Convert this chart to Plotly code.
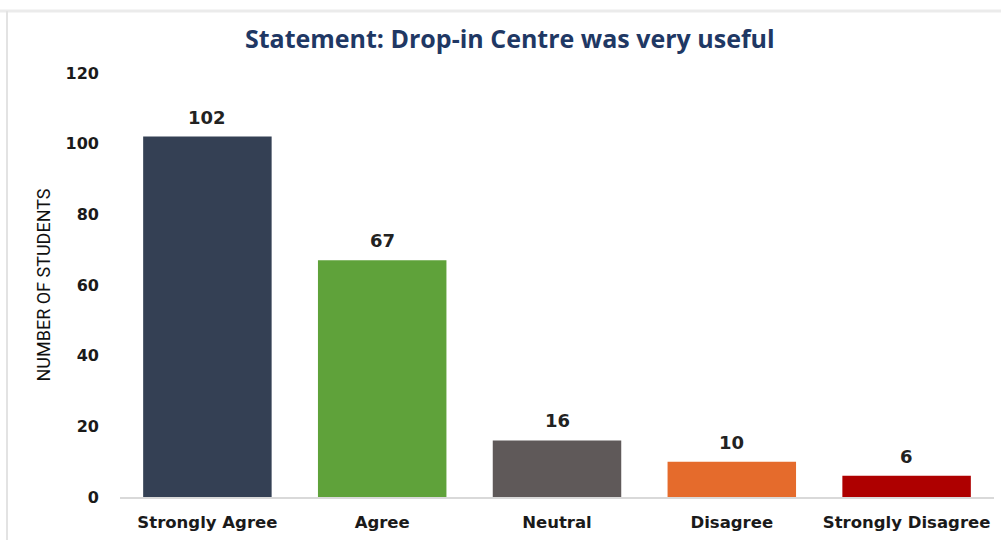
import plotly.graph_objects as go

categories = ["Strongly Agree", "Agree", "Neutral", "Disagree", "Strongly Disagree"]
values = [102, 67, 16, 10, 6]
colors = ["#344054", "#5FA23A", "#5F5959", "#E56B2C", "#AE0000"]
y_ticks = [0, 20, 40, 60, 80, 100, 120]

fig = go.Figure(go.Bar(
    x=categories, y=values,
    marker=dict(color=colors, line=dict(width=0)),
    hoverinfo="x+y",
))

for c, v in zip(categories, values):
    fig.add_annotation(x=c, y=v, text=str(v), showarrow=False, yanchor="bottom", yshift=7,
                       font=dict(family="DejaVu Sans", size=18, color="#222222", weight="bold"))

fig.update_layout(
    width=1001, height=540,
    margin=dict(l=120, r=7, t=73, b=43),
    paper_bgcolor="white", plot_bgcolor="white",
    bargap=0.265,
    showlegend=False,
    title=dict(text="Statement: Drop-in Centre was very useful",
               x=0.446, xanchor="center", xref="paper", y=0.928, yanchor="middle",
               font=dict(family="Open Sans", size=25, color="#1F3864", weight="bold")),
    xaxis=dict(showline=True, linecolor="#D9D9D9", linewidth=2,
               tickfont=dict(family="DejaVu Sans", size=16.5, color="#1a1a1a", weight="bold"),
               ticks="", ticklabelstandoff=9, showgrid=False),
    yaxis=dict(range=[0, 120], tickvals=y_ticks, showgrid=False, zeroline=False,
               showline=False, ticks="", ticklabelstandoff=20,
               tickfont=dict(family="DejaVu Sans", size=16, color="#1a1a1a", weight="bold"),
               title=dict(text="NUMBER OF STUDENTS", standoff=10,
                          font=dict(family="Roboto", size=18, color="#111111"))),
    shapes=[
        dict(type="line", xref="paper", yref="paper", x0=-0.2, x1=1.05, y0=1.0 + 62/424, y1=1.0 + 62/424,
             line=dict(color="#EBEBEB", width=3)),
        dict(type="line", xref="paper", yref="paper", x0=-113/874, x1=-113/874, y0=-0.2, y1=1.0 + 62/424,
             line=dict(color="#E3E3E3", width=2)),
    ],
)

fig.write_html("out.html")
